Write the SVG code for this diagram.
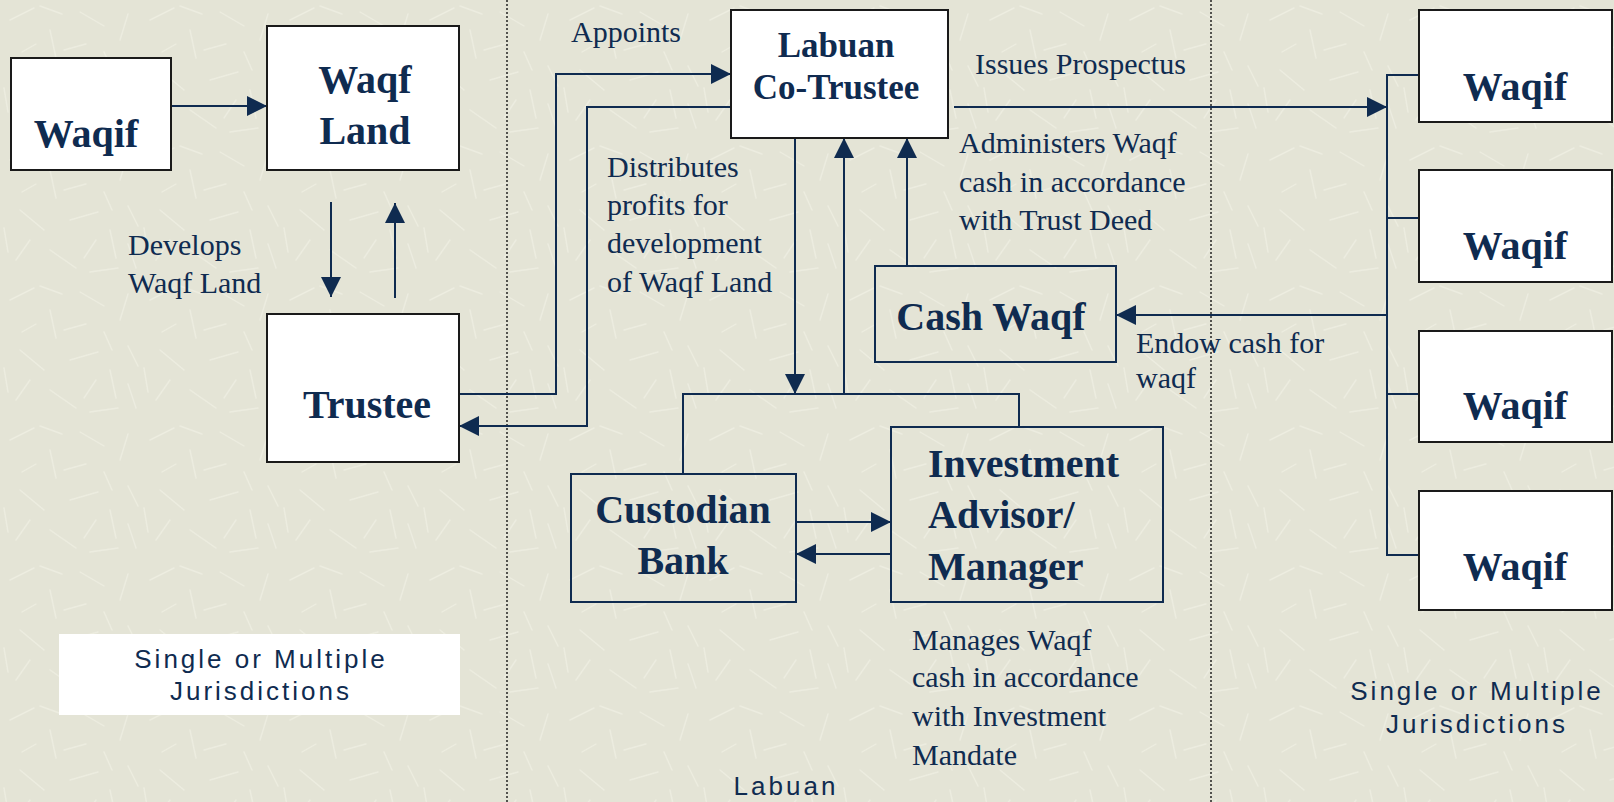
<svg xmlns="http://www.w3.org/2000/svg" width="1614" height="802" viewBox="0 0 1614 802">
<defs>
<style>
.bg{fill:#e4e4d6}
.wbox{fill:#ffffff;stroke:#1a1a1a;stroke-width:2}
.nbox{fill:none;stroke:#0f2b50;stroke-width:2}
.ln{fill:none;stroke:#0f2b50;stroke-width:2}
.arr{fill:none;stroke:#0f2b50;stroke-width:2;marker-end:url(#ah)}
.dot{stroke:#222;stroke-width:1.5;stroke-dasharray:2 2}
.b{font-family:"Liberation Serif",serif;font-weight:bold;font-size:40px;fill:#0f2b50;text-anchor:middle}
.t{font-family:"Liberation Serif",serif;font-size:30px;fill:#0f2b50}
.s{font-family:"Liberation Sans",Arial,sans-serif;font-size:26px;fill:#0f2b50;text-anchor:middle;letter-spacing:3px}
</style>
<marker id="ah" markerUnits="userSpaceOnUse" markerWidth="22" markerHeight="20" refX="20" refY="10" orient="auto">
<path d="M0,0 L20,10 L0,20 Z" fill="#0f2b50"/>
</marker>
<pattern id="tex" width="140" height="140" patternUnits="userSpaceOnUse">
<g stroke="#f0f0e4" stroke-width="1.4" stroke-linecap="round" opacity="0.7">
<line x1="10" y1="20" x2="34" y2="8"/>
<line x1="50" y1="30" x2="56" y2="58"/>
<line x1="80" y1="12" x2="104" y2="26"/>
<line x1="120" y1="40" x2="128" y2="14"/>
<line x1="20" y1="70" x2="44" y2="90"/>
<line x1="70" y1="80" x2="98" y2="72"/>
<line x1="110" y1="90" x2="116" y2="118"/>
<line x1="16" y1="120" x2="30" y2="100"/>
<line x1="50" y1="110" x2="76" y2="128"/>
<line x1="90" y1="132" x2="118" y2="128"/>
<line x1="128" y1="66" x2="138" y2="86"/>
<line x1="36" y1="44" x2="22" y2="52"/>
<line x1="64" y1="50" x2="86" y2="44"/>
<line x1="96" y1="100" x2="84" y2="118"/>
<line x1="4" y1="88" x2="8" y2="112"/>
<line x1="104" y1="52" x2="112" y2="70"/>
<line x1="40" y1="6" x2="62" y2="14"/>
<line x1="128" y1="104" x2="136" y2="128"/>
</g>
</pattern>
</defs>
<rect class="bg" x="0" y="0" width="1614" height="802"/>
<rect x="0" y="0" width="1614" height="802" fill="url(#tex)"/>

<g id="dividers">
<line class="dot" x1="507" y1="0" x2="507" y2="802"/>
<line class="dot" x1="1211" y1="0" x2="1211" y2="802"/>
</g>

<g id="connectors">
<line class="arr" x1="171" y1="106" x2="267" y2="106"/>
<line class="arr" x1="331" y1="202" x2="331" y2="297"/>
<line class="arr" x1="395" y1="298" x2="395" y2="203"/>
<polyline class="arr" points="459,394 556,394 556,74 731,74"/>
<polyline class="arr" points="731,107 587,107 587,426 459,426"/>
<line class="arr" x1="954" y1="107" x2="1387" y2="107"/>
<polyline class="ln" points="1419,75 1387,75 1387,555 1419,555"/>
<line class="ln" x1="1387" y1="218" x2="1419" y2="218"/>
<line class="ln" x1="1387" y1="394" x2="1419" y2="394"/>
<line class="arr" x1="1387" y1="315" x2="1116" y2="315"/>
<line class="arr" x1="907" y1="266" x2="907" y2="138"/>
<line class="arr" x1="795" y1="138" x2="795" y2="394"/>
<line class="arr" x1="844" y1="394" x2="844" y2="138"/>
<polyline class="ln" points="683,474 683,394 1019,394 1019,427"/>
<line class="arr" x1="796" y1="522" x2="891" y2="522"/>
<line class="arr" x1="891" y1="554" x2="796" y2="554"/>
</g>

<g id="waqif-left">
<rect class="wbox" x="11" y="58" width="160" height="112"/>
<text class="b" x="86" y="147">Waqif</text>
</g>
<g id="waqf-land">
<rect class="wbox" x="267" y="26" width="192" height="144"/>
<text class="b" x="365" y="93">Waqf</text>
<text class="b" x="365" y="144">Land</text>
</g>
<g id="trustee">
<rect class="wbox" x="267" y="314" width="192" height="148"/>
<text class="b" x="367" y="418">Trustee</text>
</g>
<g id="labuan-co-trustee">
<rect class="wbox" x="731" y="10" width="217" height="128"/>
<text class="b" x="836" y="57" style="font-size:35px">Labuan</text>
<text class="b" x="836" y="99" style="font-size:35px">Co-Trustee</text>
</g>
<g id="cash-waqf">
<rect class="nbox" x="875" y="266" width="241" height="96"/>
<text class="b" x="991" y="330">Cash Waqf</text>
</g>
<g id="custodian-bank">
<rect class="nbox" x="571" y="474" width="225" height="128"/>
<text class="b" x="683" y="523">Custodian</text>
<text class="b" x="683" y="574">Bank</text>
</g>
<g id="investment-manager">
<rect class="nbox" x="891" y="427" width="272" height="175"/>
<text class="b" x="928" y="477" style="text-anchor:start">Investment</text>
<text class="b" x="928" y="528" style="text-anchor:start">Advisor/</text>
<text class="b" x="928" y="580" style="text-anchor:start">Manager</text>
</g>
<g id="waqif-1">
<rect class="wbox" x="1419" y="10" width="193" height="112"/>
<text class="b" x="1515" y="100">Waqif</text>
</g>
<g id="waqif-2">
<rect class="wbox" x="1419" y="170" width="193" height="112"/>
<text class="b" x="1515" y="259">Waqif</text>
</g>
<g id="waqif-3">
<rect class="wbox" x="1419" y="331" width="193" height="111"/>
<text class="b" x="1515" y="419">Waqif</text>
</g>
<g id="waqif-4">
<rect class="wbox" x="1419" y="491" width="193" height="119"/>
<text class="b" x="1515" y="580">Waqif</text>
</g>

<g id="labels">
<text class="t" x="128" y="255">Develops</text>
<text class="t" x="128" y="293">Waqf Land</text>
<text class="t" x="571" y="42">Appoints</text>
<text class="t" x="975" y="74">Issues Prospectus</text>
<text class="t" x="607" y="177">Distributes</text>
<text class="t" x="607" y="215">profits for</text>
<text class="t" x="607" y="253">development</text>
<text class="t" x="607" y="292">of Waqf Land</text>
<text class="t" x="959" y="153">Administers Waqf</text>
<text class="t" x="959" y="192">cash in accordance</text>
<text class="t" x="959" y="230">with Trust Deed</text>
<text class="t" x="1136" y="353">Endow cash for</text>
<text class="t" x="1136" y="388">waqf</text>
<text class="t" x="912" y="650">Manages Waqf</text>
<text class="t" x="912" y="687">cash in accordance</text>
<text class="t" x="912" y="726">with Investment</text>
<text class="t" x="912" y="765">Mandate</text>
</g>

<g id="jurisdiction-left">
<rect x="59" y="634" width="401" height="81" fill="#ffffff"/>
<text class="s" x="261" y="668">Single or Multiple</text>
<text class="s" x="261" y="700">Jurisdictions</text>
</g>
<g id="jurisdiction-right">
<text class="s" x="1477" y="700">Single or Multiple</text>
<text class="s" x="1477" y="733">Jurisdictions</text>
</g>
<g id="jurisdiction-labuan">
<text class="s" x="786" y="795">Labuan</text>
</g>
</svg>
